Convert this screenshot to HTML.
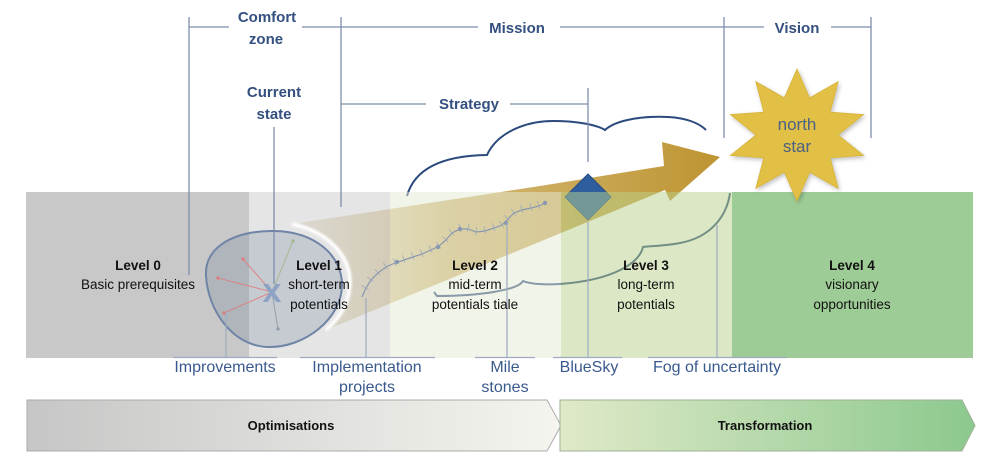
<!DOCTYPE html>
<html>
<head>
<meta charset="utf-8">
<style>
html,body{margin:0;padding:0;background:#fff;}
svg{display:block;}
text{font-family:"Liberation Sans",Arial,sans-serif;}
.br{fill:#33507f;font-weight:bold;font-size:15px;}
.lb{fill:#3a5a8e;font-size:16px;}
.lv{fill:#111;font-size:13.5px;}
.lvb{fill:#111;font-size:13.5px;font-weight:bold;}
</style>
</head>
<body>
<svg width="1000" height="456" viewBox="0 0 1000 456" xmlns="http://www.w3.org/2000/svg">
<defs>
  <linearGradient id="arr" gradientUnits="userSpaceOnUse" x1="292" y1="0" x2="720" y2="0">
    <stop offset="0" stop-color="rgb(205,190,150)" stop-opacity="0.4"/>
    <stop offset="0.37" stop-color="rgb(200,166,85)" stop-opacity="0.8"/>
    <stop offset="0.63" stop-color="rgb(196,160,70)" stop-opacity="0.9"/>
    <stop offset="1" stop-color="rgb(190,148,50)" stop-opacity="1"/>
  </linearGradient>
  <linearGradient id="opt" x1="0" y1="0" x2="1" y2="0">
    <stop offset="0" stop-color="#c6c6c6"/>
    <stop offset="1" stop-color="#f5f5ef"/>
  </linearGradient>
  <linearGradient id="trf" x1="0" y1="0" x2="1" y2="0">
    <stop offset="0" stop-color="#e0e9c8"/>
    <stop offset="1" stop-color="#8cc98e"/>
  </linearGradient>
  <marker id="tk" markerWidth="2" markerHeight="10" refX="1" refY="5" orient="auto" markerUnits="userSpaceOnUse" viewBox="0 0 2 10" overflow="visible">
    <line x1="1" y1="0" x2="1" y2="8" stroke="#9eaabd" stroke-width="0.8"/>
  </marker>
  <filter id="sh" x="-20%" y="-20%" width="140%" height="140%">
    <feDropShadow dx="1.5" dy="2" stdDeviation="2" flood-color="#000" flood-opacity="0.25"/>
  </filter>
  <filter id="bl" x="-20%" y="-20%" width="140%" height="140%">
    <feGaussianBlur stdDeviation="1"/>
  </filter>
</defs>

<!-- arrow / wedge -->
<path d="M292,224 L540,186 L664,166 L662,142 L720,157 L670,201 L665,190 L326,330 C340,318 350,303 350,282 C350,257 330,232 292,224 Z" fill="url(#arr)"/>

<!-- diamond -->
<polygon points="588,174 611,197 588,220 565,197" fill="#2f5e9e" stroke="#254b82" stroke-width="1"/>

<!-- cloud -->
<path d="M407,196 Q418,156 487,155 C497,133 525,121 553,121 C578,121 597,125 605,130 C617,119 645,116 668,117 C688,118 700,124 706,130" fill="none" stroke="#2c4a7c" stroke-width="2"/>
<path d="M730,193 C727,215 712,237 680,243 C665,246 650,246 643,247 C640,262 615,280 560,284 C545,285 530,284 523,281 C518,290 480,296 437,296 L434,292" fill="none" stroke="#2c4a7c" stroke-width="2"/>

<!-- bands -->
<rect x="26" y="192" width="223" height="166" fill="#c8c8c8"/>
<rect x="249" y="192" width="141" height="166" fill="rgb(203,203,203)" fill-opacity="0.5"/>
<rect x="390" y="192" width="171" height="166" fill="rgb(227,233,211)" fill-opacity="0.5"/>
<rect x="561" y="192" width="171" height="166" fill="rgb(185,210,140)" fill-opacity="0.5"/>
<rect x="732" y="192" width="241" height="166" fill="#9ecc96"/>

<!-- halo arc -->
<path d="M292,224 C330,232 350,257 350,282 C350,303 340,318 326,330" fill="none" stroke="#fff" stroke-width="3.5" filter="url(#bl)"/>

<!-- oval -->
<path d="M206,276 C204,245 238,230 275,231 C315,232 342,255 342,285 C342,318 305,348 268,347 C232,346 208,310 206,276 Z" fill="rgb(100,115,145)" fill-opacity="0.24" stroke="#6f84a6" stroke-width="2"/>

<!-- rays -->
<g stroke-width="0.9">
  <line x1="272" y1="292" x2="243" y2="259" stroke="#e07a7a"/>
  <line x1="272" y1="292" x2="218" y2="278" stroke="#e07a7a"/>
  <line x1="272" y1="292" x2="224" y2="313" stroke="#e07a7a"/>
  <line x1="272" y1="292" x2="293" y2="241" stroke="#a2b88a"/>
  <line x1="272" y1="292" x2="278" y2="329" stroke="#8f9aaa"/>
</g>
<g>
  <circle cx="243" cy="259" r="1.6" fill="#e07a7a"/>
  <circle cx="218" cy="278" r="1.6" fill="#e07a7a"/>
  <circle cx="224" cy="313" r="1.6" fill="#e07a7a"/>
  <circle cx="293" cy="241" r="1.6" fill="#a2b88a"/>
  <circle cx="278" cy="329" r="1.6" fill="#8f9aaa"/>
</g>

<!-- bracket lines -->
<g stroke="#7e8eac" stroke-width="1.3" fill="none">
  <line x1="189" y1="27" x2="229" y2="27"/>
  <line x1="302" y1="27" x2="478" y2="27"/>
  <line x1="560" y1="27" x2="764" y2="27"/>
  <line x1="831" y1="27" x2="871" y2="27"/>
  <line x1="189" y1="17" x2="189" y2="275"/>
  <line x1="341" y1="17" x2="341" y2="207"/>
  <line x1="724" y1="17" x2="724" y2="138"/>
  <line x1="871" y1="17" x2="871" y2="138"/>
  <line x1="274" y1="127" x2="274" y2="284"/>
  <line x1="341" y1="104" x2="426" y2="104"/>
  <line x1="510" y1="104" x2="588" y2="104"/>
  <line x1="588" y1="88" x2="588" y2="162"/>
</g>

<!-- X marker -->
<text x="272" y="302" text-anchor="middle" font-size="34" font-weight="bold" fill="#8ea2c4">x</text>

<!-- milestone path -->
<polyline points="362,297 366,288 371,280 378,273 386,267 395,263 404,260 413,257 422,254 431,250 439,246 446,240 452,233 460,229 468,229 476,232 485,231 494,228 502,225 508,219 514,213 522,210 531,208 539,206 545,203" fill="none" stroke="#8898b0" stroke-width="1.2" marker-mid="url(#tk)"/>
<g fill="#8898b0">
  <circle cx="397" cy="262" r="2.2"/>
  <circle cx="438" cy="247" r="2.2"/>
  <circle cx="460" cy="229" r="2.2"/>
  <circle cx="506" cy="223" r="2.2"/>
  <circle cx="545" cy="203" r="2.2"/>
</g>

<!-- bottom connectors -->
<g stroke="#9eacc2" stroke-width="1.2" fill="none">
  <line x1="226" y1="312" x2="226" y2="357"/>
  <line x1="366" y1="298" x2="366" y2="357"/>
  <line x1="507" y1="223" x2="507" y2="357"/>
  <line x1="588" y1="222" x2="588" y2="357"/>
  <line x1="717" y1="225" x2="717" y2="357"/>
  <line x1="173" y1="357.5" x2="277" y2="357.5"/>
  <line x1="300" y1="357.5" x2="435" y2="357.5"/>
  <line x1="475" y1="357.5" x2="535" y2="357.5"/>
  <line x1="553" y1="357.5" x2="622" y2="357.5"/>
  <line x1="648" y1="357.5" x2="787" y2="357.5"/>
</g>

<!-- star -->
<polygon filter="url(#sh)" fill="#e2bf44" stroke="#d6b43c" stroke-width="0.8" points="797,69 809.7,97.9 838.2,81.6 830.2,112.1 863.6,114.6 838,135 863.6,155.4 830.2,157.9 838.2,188.4 809.7,172.1 797,201 784.3,172.1 755.8,188.4 763.8,157.9 730.4,155.4 756,135 730.4,114.6 763.8,112.1 755.8,81.6 784.3,97.9"/>
<text x="797" y="130" text-anchor="middle" font-size="17" fill="#4a6284">north</text>
<text x="797" y="152" text-anchor="middle" font-size="17" fill="#4a6284">star</text>

<!-- bracket labels -->
<text class="br" x="267" y="22" text-anchor="middle">Comfort</text>
<text class="br" x="266" y="44" text-anchor="middle">zone</text>
<text class="br" x="517" y="33" text-anchor="middle">Mission</text>
<text class="br" x="797" y="33" text-anchor="middle">Vision</text>
<text class="br" x="274" y="97" text-anchor="middle">Current</text>
<text class="br" x="274" y="119" text-anchor="middle">state</text>
<text class="br" x="469" y="109" text-anchor="middle">Strategy</text>

<!-- level texts -->
<text class="lvb" x="138" y="270" text-anchor="middle">Level 0</text>
<text class="lv" x="138" y="289" text-anchor="middle">Basic prerequisites</text>
<text class="lvb" x="319" y="270" text-anchor="middle">Level 1</text>
<text class="lv" x="319" y="289" text-anchor="middle">short-term</text>
<text class="lv" x="319" y="309" text-anchor="middle">potentials</text>
<text class="lvb" x="475" y="270" text-anchor="middle">Level 2</text>
<text class="lv" x="475" y="289" text-anchor="middle">mid-term</text>
<text class="lv" x="475" y="309" text-anchor="middle">potentials tiale</text>
<text class="lvb" x="646" y="270" text-anchor="middle">Level 3</text>
<text class="lv" x="646" y="289" text-anchor="middle">long-term</text>
<text class="lv" x="646" y="309" text-anchor="middle">potentials</text>
<text class="lvb" x="852" y="270" text-anchor="middle">Level 4</text>
<text class="lv" x="852" y="289" text-anchor="middle">visionary</text>
<text class="lv" x="852" y="309" text-anchor="middle">opportunities</text>

<!-- bottom labels -->
<text class="lb" x="225" y="372" text-anchor="middle">Improvements</text>
<text class="lb" x="367" y="372" text-anchor="middle">Implementation</text>
<text class="lb" x="367" y="392" text-anchor="middle">projects</text>
<text class="lb" x="505" y="372" text-anchor="middle">Mile</text>
<text class="lb" x="505" y="392" text-anchor="middle">stones</text>
<text class="lb" x="589" y="372" text-anchor="middle">BlueSky</text>
<text class="lb" x="717" y="372" text-anchor="middle">Fog of uncertainty</text>

<!-- chevrons -->
<polygon points="27,400 547,400 561,425.5 547,451 27,451" fill="url(#opt)" stroke="#ababab" stroke-width="1"/>
<polygon points="560,400 962,400 975,425.5 962,451 560,451" fill="url(#trf)" stroke="#9cb294" stroke-width="1"/>
<text x="291" y="430" text-anchor="middle" font-size="13" font-weight="bold" fill="#111">Optimisations</text>
<text x="765" y="430" text-anchor="middle" font-size="13" font-weight="bold" fill="#111">Transformation</text>
</svg>
</body>
</html>
